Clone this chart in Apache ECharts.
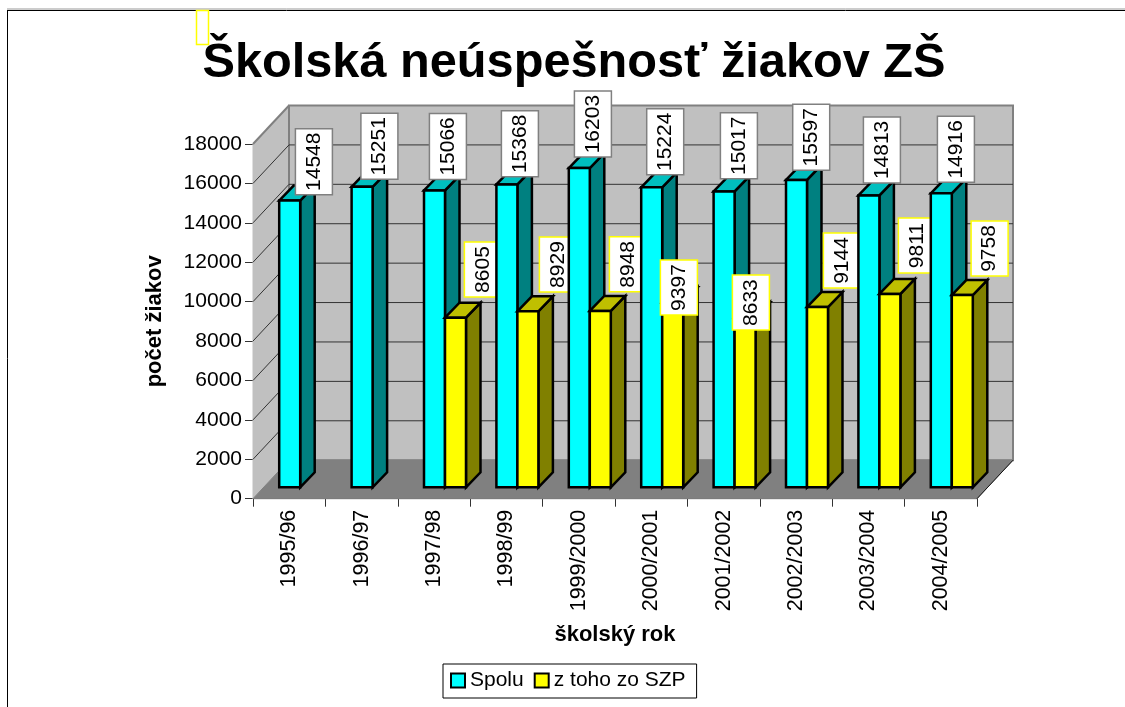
<!DOCTYPE html>
<html>
<head>
<meta charset="utf-8">
<title>Školská neúspešnosť žiakov ZŠ</title>
<script src="https://cdn.jsdelivr.net/npm/echarts@6/dist/echarts.min.js"></script>
<style>
html, body { margin: 0; padding: 0; background: #fff; }
#charsId { width: 1125px; height: 707px; }
</style>
</head>
<body>
<div id="charsId"></div>
<script>
var roky = ['1995/96', '1996/97', '1997/98', '1998/99', '1999/2000', '2000/2001', '2001/2002', '2002/2003', '2003/2004', '2004/2005'];
var spolu = [14548, 15251, 15066, 15368, 16203, 15224, 15017, 15597, 14813, 14916];
var zTohoSzp = [null, null, 8605, 8929, 8948, 9397, 8633, 9144, 9811, 9758];
var yTicks = [2000, 4000, 6000, 8000, 10000, 12000, 14000, 16000, 18000];

// posun popiskov od laveho horneho rohu stlpca (v grafe su rucne posunute)
var spoluLabelDx = [34.7, 27.8, 23.9, 23.5, 24.1, 24, 25.3, 25.2, 23.5, 25.1];
var spoluLabelDy = [-38.9, -40.4, -44, -40.6, -43.9, -45.5, -45.6, -42.6, -45.5, -44];
var szpLabelDx = [0, 0, 37.9, 40.5, 38.1, 16.7, 16.3, 34.9, 37.5, 37.8];
var szpLabelDy = [0, 0, -48.2, -46.8, -46.6, -14.6, -14.6, -46.6, -48.4, -46.5];

var FONT = '"Liberation Sans", Arial, sans-serif';
var DEPTH_X = 36, DEPTH_Y = 38.5;      // hlbka celeho grafu
var BAR_DX = 14.5, BAR_DY = 15;        // hlbka stlpca
var IN_X = 11, IN_Y = 11.4;            // odsadenie stlpca od prednej hrany
var BAR_W = 0.29;                      // sirka stlpca ako cast kategorie

function poly(points, fill, stroke, lw, z2) {
	return {
		type: 'polygon',
		z2: z2,
		shape: { points: points },
		style: { fill: fill, stroke: stroke, lineWidth: lw, lineJoin: 'miter' }
	};
}

function renderWalls(params, api) {
	var cs = params.coordSys;
	var children = [];
	var x0 = cs.x, x1 = cs.x + cs.width, top = cs.y, bot = cs.y + cs.height;
	if (params.dataIndex === 0) {
		// zadna stena, bocna stena, podlaha
		children.push(poly([[x0, top], [x0 + DEPTH_X, top - DEPTH_Y], [x0 + DEPTH_X, bot - DEPTH_Y], [x0, bot]], '#C0C0C0', '#C0C0C0', 1, 0));
		children.push(poly([[x0 + DEPTH_X, top - DEPTH_Y], [x1 + DEPTH_X, top - DEPTH_Y], [x1 + DEPTH_X, bot - DEPTH_Y], [x0 + DEPTH_X, bot - DEPTH_Y]], '#C0C0C0', '#808080', 2, 0));
		children.push({ type: 'line', z2: 0, shape: { x1: x0, y1: top, x2: x0 + DEPTH_X, y2: top - DEPTH_Y }, style: { stroke: '#808080', lineWidth: 2 } });
		children.push(poly([[x0, bot], [x0 + DEPTH_X, bot - DEPTH_Y], [x1 + DEPTH_X, bot - DEPTH_Y], [x1, bot]], '#808080', '#808080', 1, 1));
		children.push({ type: 'line', z2: 2, shape: { x1: x1, y1: bot, x2: x1 + DEPTH_X, y2: bot - DEPTH_Y }, style: { stroke: '#111', lineWidth: 1 } });
	}
	var y = api.coord([0, api.value(0)])[1];
	if (api.value(0) < 18000) {
		children.push({ type: 'polyline', z2: 2, shape: { points: [[x0, y], [x0 + DEPTH_X, y - DEPTH_Y], [x1 + DEPTH_X, y - DEPTH_Y]] }, style: { fill: null, stroke: '#333', lineWidth: 1 } });
	}
	return { type: 'group', children: children };
}

function renderBar(front, side, topc, labelBorder, shift, dxs, dys) {
	return function (params, api) {
		var i = api.value(0), v = api.value(1);
		if (isNaN(v)) { return null; }
		var band = api.size([1, 0])[0];
		var w = band * BAR_W;
		var base = api.coord([i, 0]);
		var peak = api.coord([i, v]);
		var xl = base[0] + IN_X + shift * w;
		var xr = xl + w;
		var yb = base[1] - IN_Y;
		var yt = peak[1] - IN_Y;
		var z = i * 10 + (shift < 0 ? 0 : 3);
		var lw = 2.5;
		var txt = String(v);
		var boxH = txt.length * 11 + 11;
		var cx = xl + dxs[i];
		var cy = yt + dys[i];
		// popisok zlteho stlpca je pod dalsim stlpcom, tyrkysovy je navrchu
		var zl = shift < 0 ? 1000 : (i + 1) * 10 - 1;
		return {
			type: 'group',
			children: [
				poly([[xr, yb], [xr + BAR_DX, yb - BAR_DY], [xr + BAR_DX, yt - BAR_DY], [xr, yt]], side, '#000', lw, z),
				poly([[xl, yt], [xl + BAR_DX, yt - BAR_DY], [xr + BAR_DX, yt - BAR_DY], [xr, yt]], topc, '#000', lw, z),
				poly([[xl, yb], [xr, yb], [xr, yt], [xl, yt]], front, '#000', lw, z + 1),
				{ type: 'rect', z2: zl, shape: { x: cx - 18.5, y: cy - boxH / 2, width: 37, height: boxH }, style: { fill: '#fff', stroke: labelBorder, lineWidth: 1.5 } },
				{ type: 'text', z2: zl + 0.5, x: cx, y: cy, rotation: Math.PI / 2, style: { text: txt, fill: '#000', font: '21px ' + FONT, align: 'center', verticalAlign: 'middle' } }
			]
		};
	};
}

function pairs(values) {
	var out = [];
	for (var i = 0; i < values.length; i++) {
		out.push([i, values[i]]);
	}
	return out;
}

var myChart = echarts.init(document.getElementById('charsId'), null, { renderer: 'canvas' });
var option = {
	animation: false,
	backgroundColor: '#fff',
	title: {
		text: 'Školská neúspešnosť žiakov ZŠ',
		left: 574,
		top: 39,
		textAlign: 'center',
		padding: 0,
		textStyle: { fontFamily: FONT, fontSize: 48.7, fontWeight: 'bold', color: '#000' }
	},
	legend: {
		left: 443,
		top: 664,
		padding: [6, 11, 7, 7],
		itemWidth: 14,
		itemHeight: 14,
		itemGap: 10,
		borderColor: '#000',
		borderWidth: 1,
		backgroundColor: '#fff',
		textStyle: { fontFamily: FONT, fontSize: 21, color: '#000', padding: [0, 0, 0, 0] },
		data: [
			{ name: 'Spolu', icon: 'rect', itemStyle: { color: '#00FFFF', borderColor: '#000', borderWidth: 2 } },
			{ name: 'z toho zo SZP', icon: 'rect', itemStyle: { color: '#FFFF00', borderColor: '#000', borderWidth: 2 } }
		]
	},
	grid: { left: 253, top: 144, width: 724, height: 354.7, containLabel: false },
	xAxis: {
		type: 'category',
		data: roky,
		name: 'školský rok',
		nameLocation: 'middle',
		nameGap: 125,
		nameTextStyle: { fontFamily: FONT, fontSize: 22, fontWeight: 'bold', color: '#000' },
		axisLine: { lineStyle: { color: '#333', width: 1 } },
		axisTick: { show: true, length: 8, lineStyle: { color: '#333' } },
		axisLabel: { rotate: 90, margin: 11, interval: 0, fontFamily: FONT, fontSize: 21.5, color: '#000' },
		splitLine: { show: false }
	},
	yAxis: {
		type: 'value',
		min: 0,
		max: 18000,
		interval: 2000,
		name: 'počet žiakov',
		nameLocation: 'middle',
		nameGap: 87,
		nameTextStyle: { fontFamily: FONT, fontSize: 22, fontWeight: 'bold', color: '#000' },
		axisLine: { show: true, lineStyle: { color: '#999', width: 1 } },
		axisTick: { show: true, length: 8, lineStyle: { color: '#333' } },
		axisLabel: { margin: 11, fontFamily: FONT, fontSize: 21, color: '#000', formatter: function (v) { return String(v); } },
		splitLine: { show: false }
	},
	series: [
		{
			name: 'steny',
			type: 'custom',
			silent: true,
			z: 1,
			renderItem: renderWalls,
			encode: { y: 0 },
			data: yTicks
		},
		{
			name: 'Spolu',
			type: 'custom',
			silent: true,
			z: 2,
			renderItem: renderBar('#00FFFF', '#008080', '#00BFBF', '#808080', -1, spoluLabelDx, spoluLabelDy),
			encode: { x: 0, y: 1 },
			data: pairs(spolu)
		},
		{
			name: 'z toho zo SZP',
			type: 'custom',
			silent: true,
			z: 2,
			renderItem: renderBar('#FFFF00', '#808000', '#BFBF00', '#FFFF00', 0, szpLabelDx, szpLabelDy),
			encode: { x: 0, y: 1 },
			data: pairs(zTohoSzp)
		}
	],
	graphic: [
		{ type: 'line', silent: true, shape: { x1: 7, y1: 9, x2: 1125, y2: 9 }, style: { stroke: '#999', lineWidth: 1 } },
		{ type: 'line', silent: true, shape: { x1: 7, y1: 10.5, x2: 1125, y2: 10.5 }, style: { stroke: '#000', lineWidth: 1 } },
		{ type: 'line', silent: true, shape: { x1: 7.5, y1: 10, x2: 7.5, y2: 707 }, style: { stroke: '#000', lineWidth: 1 } },
		{ type: 'rect', silent: true, shape: { x: 196.5, y: 10.5, width: 12, height: 34 }, style: { fill: '#fff', stroke: '#FFFF00', lineWidth: 1.5 } }
	]
};
myChart.setOption(option);
</script>
</body>
</html>
